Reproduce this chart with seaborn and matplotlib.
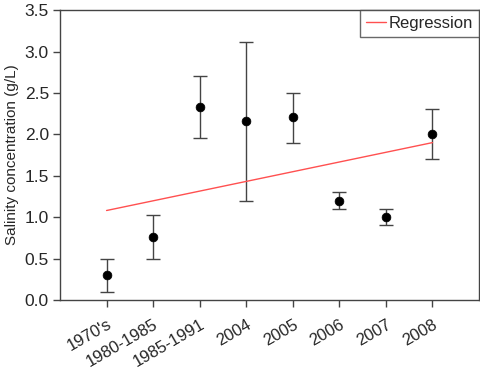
import numpy as np
import pandas as pd
import matplotlib
matplotlib.use("Agg")
import matplotlib.pyplot as plt
import seaborn as sns

periods = ["1970's", "1980-1985", "1985-1991", "2004", "2005", "2006", "2007", "2008"]
salinity = [0.30, 0.76, 2.33, 2.16, 2.21, 1.20, 1.00, 2.00]
err_low = [0.10, 0.50, 1.95, 1.19, 1.90, 1.10, 0.90, 1.70]
err_high = [0.50, 1.02, 2.70, 3.11, 2.50, 1.30, 1.10, 2.30]
reg_x = [0, 7]
reg_y = [1.08, 1.90]

sns.set_style("ticks")
plt.rcParams['font.family'] = ['Liberation Sans', 'DejaVu Sans']

df = pd.DataFrame({"pos": np.arange(len(periods)), "salinity": salinity})
reg = pd.DataFrame({"pos": reg_x, "salinity": reg_y})

fig = plt.figure(figsize=(4.8, 3.74), dpi=100)
ax = fig.add_axes([0.125, 0.198, 0.873, 0.775])

yerr = [np.array(salinity) - np.array(err_low), np.array(err_high) - np.array(salinity)]
ax.errorbar(df["pos"], df["salinity"], yerr=yerr, fmt="none", ecolor="#444444",
            elinewidth=1.0, capsize=5, capthick=1.0)
sns.scatterplot(data=df, x="pos", y="salinity", color="black", s=40, edgecolor="black",
                zorder=3, ax=ax, legend=False)
sns.lineplot(data=reg, x="pos", y="salinity", color="#ff5050", linewidth=1.0,
             label="Regression", ax=ax)

ax.set_xlim(-1, 8)
ax.set_ylim(0, 3.5)
ax.set_yticks(np.arange(0, 3.51, 0.5))
ax.set_yticklabels([f"{v:.1f}" for v in np.arange(0, 3.51, 0.5)], fontsize=12.5)
ax.set_xticks(range(len(periods)))
ax.set_xticklabels(periods, rotation=30, ha="right", va="top",
                   rotation_mode="anchor", fontsize=12)
ax.tick_params(axis="both", direction="out", length=5, color="#444444", width=1)
ax.tick_params(axis="x", pad=7)
ax.tick_params(axis="y", pad=3)
ax.set_xlabel("")
ax.set_ylabel("Salinity concentration (g/L)", fontsize=11, labelpad=4)
for s in ax.spines.values():
    s.set_color("#444444")
    s.set_linewidth(1.0)

leg = ax.legend(loc="upper right", fontsize=12, frameon=True, fancybox=False,
                borderaxespad=0, handlelength=1.2, handletextpad=0.15,
                borderpad=0.35)
leg.get_frame().set_edgecolor("#444444")
leg.get_frame().set_linewidth(1.0)

fig.savefig("out.png", dpi=100)
